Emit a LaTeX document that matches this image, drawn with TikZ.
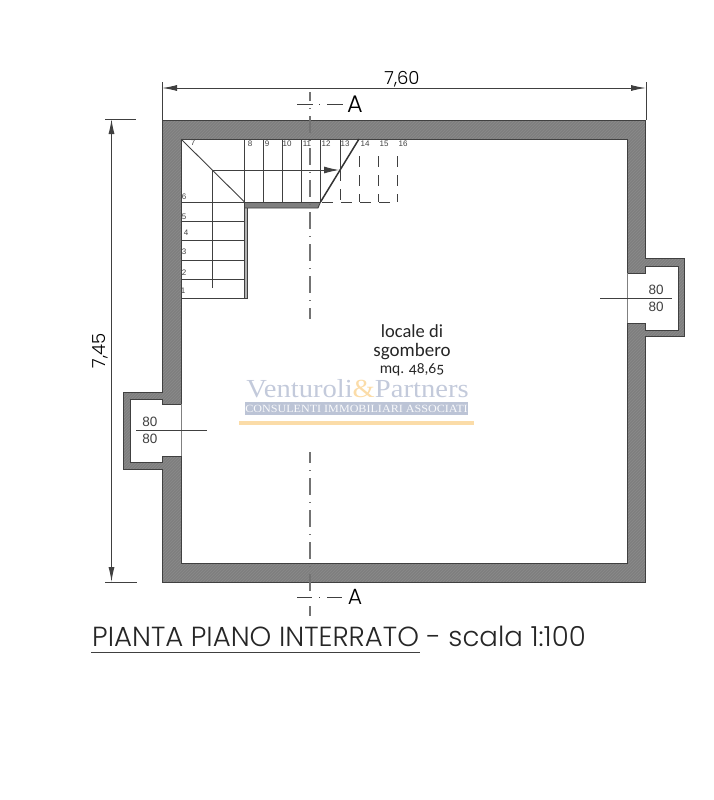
\documentclass[tikz,border=0pt]{standalone}
\usepackage{fontspec}
\usepackage{xcolor}
\usepackage{tikz}
\usetikzlibrary{arrows.meta,patterns}

\setmainfont{Carlito}[Numbers=OldStyle]
\newfontfamily\titlefont{Poppins Light}
\newfontfamily\plainfont{Liberation Sans}
\newfontfamily\logofont[FakeStretch=1.1]{Liberation Serif}

\definecolor{wallgray}{HTML}{7F7F7F}
\definecolor{hatchgray}{HTML}{8A8A8A}
\definecolor{inkgray}{HTML}{404040}
\definecolor{logoblue}{HTML}{C3CADB}
\definecolor{logoband}{HTML}{BCC4D6}
\definecolor{logoorange}{HTML}{FBDCA8}

\tikzset{
  wallline/.style={draw=inkgray,line width=1pt},
  treadline/.style={draw=inkgray,line width=0.9pt},
  ghostline/.style={draw=inkgray,line width=0.9pt,dash pattern=on 11pt off 8pt},
  axisline/.style={draw=black!55,line width=1.8pt,dash pattern=on 17pt off 7pt on 1pt off 7pt},
  markline/.style={draw=inkgray,line width=0.9pt},
  dimline/.style={draw=inkgray,line width=1pt},
  dimarrow/.style={dimline,{Latex[length=15pt,width=6pt]}-{Latex[length=15pt,width=6pt]}},
  treadlabel/.style={font=\plainfont\fontsize{8}{9}\selectfont,text=inkgray,inner sep=0pt},
  sizelabel/.style={font=\plainfont\fontsize{13.5}{14}\selectfont,text=inkgray,inner sep=0pt},
  roomlabel/.style={text=black!85,inner sep=0pt}
}

\begin{document}
\begin{tikzpicture}[x=1pt,y=-1pt]
    \useasboundingbox (0,0) rectangle (713,800);

    % Draw the walls with both niches
    \def\wallpath{(162,120) -- (645,120) -- (645,258) -- (684,258) -- (684,336) -- (645,336)
      -- (645,582) -- (162,582) -- (162,469) -- (123,469) -- (123,392) -- (162,392) -- cycle
      (181,139) -- (627,139) -- (627,273) -- (645,273) -- (645,266) -- (678,266) -- (678,330)
      -- (645,330) -- (645,323) -- (627,323) -- (627,563) -- (181,563) -- (181,456) -- (162,456)
      -- (162,462) -- (130,462) -- (130,399) -- (162,399) -- (162,404) -- (181,404) -- cycle}
    \fill[wallgray,even odd rule] \wallpath;
    \fill[pattern=north east lines,pattern color=hatchgray,even odd rule] \wallpath;
    \draw[wallline] \wallpath;

    % Draw the openings
    \draw[draw=gray,line width=0.8pt] (627,273) -- (627,323);
    \draw[draw=gray,line width=0.8pt] (181,404) -- (181,456);

    % Draw the landing edge and the stringer
    \fill[wallgray] (244,202) -- (320,202) -- (318,208) -- (244,208) -- cycle;
    \fill[gray!60] (244,208) rectangle (247.5,298);
    \draw[treadline] (247.5,208) -- (247.5,298) -- (244,298);
    \draw[treadline] (244,208) -- (318,208) -- (320.5,202);

    % Draw the treads of the lower flight
    \draw[treadline] (181,202) -- (320.5,202);
    \draw[treadline] (181,221) -- (244.5,221);
    \draw[treadline] (181,240) -- (244.5,240);
    \draw[treadline] (181,260) -- (244.5,260);
    \draw[treadline] (181,279) -- (244.5,279);
    \draw[treadline] (181,298) -- (244.5,298);

    % Draw the treads of the upper flight
    \draw[treadline] (244.5,139) -- (244.5,298);
    \draw[treadline] (263.5,139) -- (263.5,202);
    \draw[treadline] (282.5,139) -- (282.5,202);
    \draw[treadline] (301.5,139) -- (301.5,202);
    \draw[treadline] (320.5,139) -- (320.5,202);
    \draw[treadline] (340,139) -- (340,170);
    \draw[treadline] (181,139) -- (244.5,202);
    \draw[draw=black!80,line width=1.5pt] (359,139) -- (320.5,202);

    % Draw the part above the cut
    \draw[ghostline] (340,170) -- (340,202);
    \draw[ghostline] (359,156) -- (359,202);
    \draw[ghostline] (378,156) -- (378,202);
    \draw[ghostline] (397,156) -- (397,202);
    \draw[ghostline] (322,202) -- (397,202);

    % Draw the walking line
    \coordinate (walkstart) at (212.5,288);
    \coordinate (walkturn) at (212.5,170);
    \coordinate (walkend) at (339,170);
    \draw[treadline,-{Latex[length=15pt,width=7pt]}] (walkstart) -- (walkturn) -- (walkend);

    % Add the tread numbers
    \node[treadlabel] (num1) at (183,291) {1};
    \node[treadlabel] (num2) at (184,273) {2};
    \node[treadlabel] (num3) at (184,252) {3};
    \node[treadlabel] (num4) at (186,233) {4};
    \node[treadlabel] (num5) at (184,217) {5};
    \node[treadlabel] (num6) at (184,197) {6};
    \node[treadlabel] (num7) at (193,143) {7};
    \node[treadlabel] (num8) at (250,144) {8};
    \node[treadlabel] (num9) at (267,144) {9};
    \node[treadlabel] (num10) at (287,144) {10};
    \node[treadlabel] (num11) at (307,144) {11};
    \node[treadlabel] (num12) at (326,144) {12};
    \node[treadlabel] (num13) at (345,144) {13};
    \node[treadlabel] (num14) at (365,144) {14};
    \node[treadlabel] (num15) at (384,144) {15};
    \node[treadlabel] (num16) at (403,144) {16};

    % Draw the section axis
    \coordinate (axistop) at (310,92);
    \coordinate (axiscut) at (310,319);
    \coordinate (axisback) at (310,452);
    \coordinate (axisend) at (310,591);
    \draw[axisline,dash phase=8pt] (axistop) -- (axiscut);
    \draw[axisline,dash phase=6pt] (axisback) -- (axisend);
    \draw[axisline] (310,606) -- (310,616);

    % Draw the section marks
    \coordinate (marktopl) at (297,104);
    \coordinate (marktopr) at (343,104);
    \coordinate (markbotl) at (297,597);
    \coordinate (markbotr) at (343,597);
    \draw[markline,dash pattern=on 16pt off 6pt on 1pt off 7pt] (marktopl) -- (marktopr);
    \draw[markline,dash pattern=on 15pt off 7pt on 1pt off 7pt] (markbotl) -- (markbotr);
    \node[font=\titlefont\fontsize{24}{26}\selectfont,inner sep=0pt] (marktop) at (355,104) {A};
    \node[font=\titlefont\fontsize{22}{24}\selectfont,inner sep=0pt] (markbot) at (355,597) {A};

    % Draw the niche sizes
    \coordinate (nicherightl) at (600,298);
    \coordinate (nicherightr) at (672,298);
    \coordinate (nicheleftl) at (136,430);
    \coordinate (nicheleftr) at (207,430);
    \draw[treadline] (nicherightl) -- (nicherightr);
    \draw[treadline] (nicheleftl) -- (nicheleftr);
    \node[sizelabel] (sizeright1) at (656,290) {80};
    \node[sizelabel] (sizeright2) at (656,307) {80};
    \node[sizelabel] (sizeleft1) at (150,422) {80};
    \node[sizelabel] (sizeleft2) at (150,439) {80};

    % Draw the outer dimensions
    \coordinate (dimtopl) at (162,88);
    \coordinate (dimtopr) at (646,88);
    \coordinate (dimleftt) at (111.5,119);
    \coordinate (dimleftb) at (111.5,582);
    \draw[dimarrow] (dimtopl) -- (dimtopr);
    \draw[dimarrow] (dimleftt) -- (dimleftb);
    \draw[dimline] (162,82) -- (162,120);
    \draw[dimline] (646,82) -- (646,120);
    \draw[dimline] (105,119) -- (136,119);
    \draw[dimline] (105,582) -- (137,582);
    \node[font=\titlefont\fontsize{18}{20}\selectfont,inner sep=0pt] (dimwidth) at (402,79) {7,60};
    \node[font=\titlefont\fontsize{18}{20}\selectfont,inner sep=0pt,rotate=90] (dimheight) at (100,351) {7,45};

    % Add the room label
    \node[roomlabel,font=\fontsize{18.5}{19}\selectfont] (roomname) at (412,331) {locale di};
    \node[roomlabel,font=\fontsize{19}{20}\selectfont] (roomname2) at (412,352) {sgombero};
    \node[roomlabel,font=\fontsize{15.5}{16}\selectfont] (roomarea) at (412,370) {mq. 48,65};

    % Add the agency mark
    \node[font=\logofont\fontsize{26}{27}\selectfont,text=logoblue,inner sep=0pt,anchor=base] (logoname) at (357.5,397)
      {Venturoli{\color{logoorange}\&}Partners};
    \fill[logoband] (245,402) rectangle (468,415);
    \node[font=\logofont\fontsize{11}{12}\selectfont,text=white!90!logoband,inner sep=0pt] (logotag) at (356.5,408.5)
      {CONSULENTI IMMOBILIARI ASSOCIATI};
    \fill[logoorange] (239,421) rectangle (474,425);

    % Add the title
    \node[font=\titlefont\fontsize{27.6}{30}\selectfont,text=black!85,inner sep=0pt,anchor=base west] (planname) at (92,646)
      {PIANTA PIANO INTERRATO};
    \node[font=\titlefont\fontsize{27.6}{30}\selectfont,text=black!85,inner sep=0pt,anchor=base east] (planscale) at (586,646)
      {- scala 1:100};
    \coordinate (ruleleft) at (91,652);
    \coordinate (ruleright) at (420,652);
    \draw[dimline] (ruleleft) -- (ruleright);
\end{tikzpicture}
\end{document}
